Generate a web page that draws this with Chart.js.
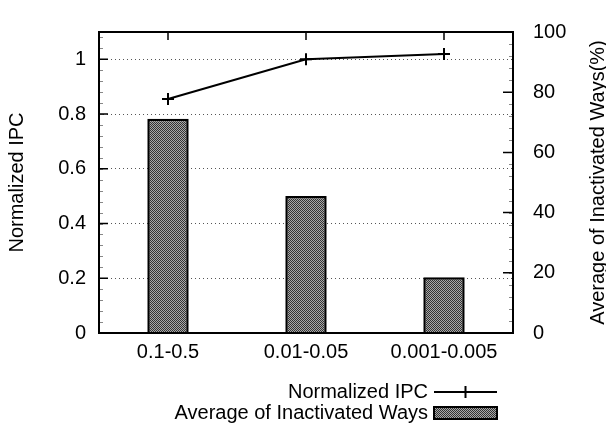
<!DOCTYPE html>
<html>
<head>
<meta charset="utf-8">
<script src="https://cdn.jsdelivr.net/npm/chart.js@4/dist/chart.umd.min.js"></script>
<style>
  html, body { margin: 0; padding: 0; background: #fff; }
  #wrap { width: 606px; height: 427px; }
</style>
</head>
<body>
<div id="wrap"><canvas id="ipcChart" width="606" height="427"></canvas></div>
<script>
/* Normalized IPC vs. inactivated ways */
const categories = ['0.1-0.5', '0.01-0.05', '0.001-0.005'];
const ipcValues = [0.855, 1.0, 1.02];
const inactiveWays = [71.2, 45.5, 18.5];
const leftTicks = [0, 0.2, 0.4, 0.6, 0.8, 1];
const rightTicks = [0, 20, 40, 60, 80, 100];

const FONT = '"Liberation Sans", Arial, sans-serif';
const FS = 20;

// checkered fill like the printed hatch
function makePattern() {
  const c = document.createElement('canvas');
  c.width = 2; c.height = 2;
  const g = c.getContext('2d');
  g.fillStyle = '#a8a8a8'; g.fillRect(0, 0, 2, 2);
  g.fillStyle = '#333'; g.fillRect(0, 0, 1, 1); g.fillRect(1, 1, 1, 1);
  return g.createPattern(c, 'repeat');
}
const hatch = makePattern();

const framePlugin = {
  id: 'frame',
  afterDraw(chart) {
    const { ctx, chartArea: a, scales } = chart;
    ctx.save();
    // minor ticks
    ctx.strokeStyle = '#888';
    ctx.lineWidth = 1;
    ctx.beginPath();
    for (let v = 0.04; v < 1.1; v += 0.04) {
      const y = Math.round(scales.y.getPixelForValue(v)) + 0.5;
      ctx.moveTo(a.left, y); ctx.lineTo(a.left + 4, y);
    }
    for (let v = 4; v < 100; v += 4) {
      const y = Math.round(scales.y1.getPixelForValue(v)) + 0.5;
      ctx.moveTo(a.right, y); ctx.lineTo(a.right - 4, y);
    }
    ctx.stroke();

    ctx.strokeStyle = '#000';
    ctx.lineWidth = 2;
    ctx.strokeRect(a.left, a.top, a.right - a.left, a.bottom - a.top);
    ctx.lineWidth = 1.5;
    ctx.beginPath();
    leftTicks.forEach(v => {
      const y = scales.y.getPixelForValue(v);
      ctx.moveTo(a.left, y); ctx.lineTo(a.left + 9, y);
    });
    rightTicks.forEach(v => {
      const y = scales.y1.getPixelForValue(v);
      ctx.moveTo(a.right, y); ctx.lineTo(a.right - 10, y);
    });
    categories.forEach((c, i) => {
      const x = scales.x.getPixelForValue(i);
      ctx.moveTo(x, a.top); ctx.lineTo(x, a.top + 8);
    });
    ctx.stroke();

    // right axis title, reading bottom to top
    ctx.fillStyle = '#000';
    ctx.font = FS + 'px ' + FONT;
    ctx.textAlign = 'center';
    ctx.textBaseline = 'middle';
    ctx.translate(598, (a.top + a.bottom) / 2);
    ctx.rotate(-Math.PI / 2);
    ctx.fillText('Average of Inactivated Ways(%)', 0, 0);
    ctx.restore();

    // legend, text right aligned with sample on the right
    const ds = chart.data.datasets;
    ctx.save();
    ctx.font = FS + 'px ' + FONT;
    ctx.fillStyle = '#000';
    ctx.textAlign = 'right';
    ctx.textBaseline = 'middle';
    const tx = 428, sx0 = 434, sx1 = 497;
    const y0 = 392, y1 = 413;
    ctx.fillText(ds[0].label, tx, y0);
    ctx.strokeStyle = '#000';
    ctx.lineWidth = 2;
    ctx.beginPath();
    ctx.moveTo(sx0, y0); ctx.lineTo(sx1, y0);
    const mx = (sx0 + sx1) / 2;
    ctx.moveTo(mx, y0 - 6); ctx.lineTo(mx, y0 + 6);
    ctx.stroke();
    ctx.fillText(ds[1].label, tx, y1);
    ctx.fillStyle = hatch;
    ctx.fillRect(sx0, y1 - 6, sx1 - sx0, 12);
    ctx.strokeRect(sx0, y1 - 6, sx1 - sx0, 12);
    ctx.restore();
  }
};

new Chart(document.getElementById('ipcChart'), {
  data: {
    labels: categories,
    datasets: [
      {
        type: 'line', label: 'Normalized IPC', data: ipcValues, yAxisID: 'y',
        borderColor: '#000', borderWidth: 2, backgroundColor: '#000',
        pointStyle: 'cross', pointRadius: 6, pointBorderWidth: 2,
        tension: 0, order: 0
      },
      {
        type: 'bar', label: 'Average of Inactivated Ways', data: inactiveWays, yAxisID: 'y1',
        backgroundColor: hatch, borderColor: '#000', borderWidth: 2.5,
        categoryPercentage: 1, barPercentage: 0.3, order: 1
      }
    ]
  },
  options: {
    responsive: false,
    animation: false,
    layout: { padding: { top: 21, left: 0, right: 0, bottom: 0 } },
    plugins: { legend: { display: false }, tooltip: { enabled: false } },
    scales: {
      x: {
        grid: { display: false, drawTicks: false },
        border: { display: false },
        ticks: { color: '#000', font: { family: FONT, size: FS }, padding: 7 },
        afterFit: s => { s.height = 94; }
      },
      y: {
        position: 'left', min: 0, max: 1.1,
        ticks: {
          stepSize: 0.2, color: '#000', padding: 13,
          font: { family: FONT, size: FS },
          callback: v => (v > 1.05 ? '' : String(Math.round(v * 10) / 10))
        },
        grid: {
          drawTicks: false, lineWidth: 1,
          color: c => (c.tick && c.tick.value > 0.01 && c.tick.value < 1.05 ? '#555' : 'rgba(0,0,0,0)')
        },
        border: { display: false, dash: [1, 3] },
        title: {
          display: true, text: 'Normalized IPC', color: '#000',
          font: { family: FONT, size: FS }, padding: { top: 5, bottom: 0 }
        },
        afterFit: s => { s.width = 99; }
      },
      y1: {
        position: 'right', min: 0, max: 100,
        ticks: { stepSize: 20, color: '#000', padding: 20, font: { family: FONT, size: FS } },
        grid: { display: false, drawTicks: false },
        border: { display: false },
        afterFit: s => { s.width = 93; }
      }
    }
  },
  plugins: [framePlugin]
});
</script>
</body>
</html>
